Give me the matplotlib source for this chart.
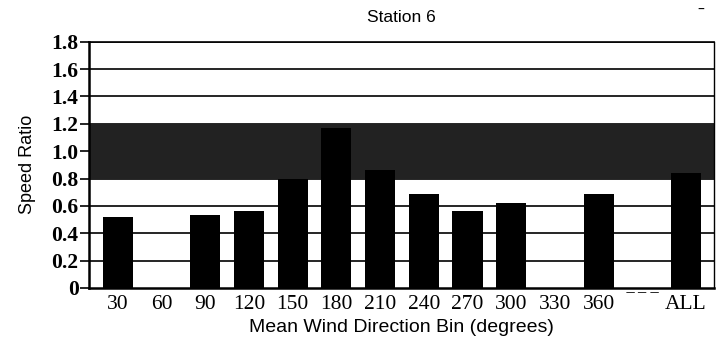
import numpy as np
import matplotlib
matplotlib.use('Agg')
import matplotlib.pyplot as plt

# Speed ratio per mean wind direction bin (blank bins have no data).
bins = ['30', '60', '90', '120', '150', '180', '210', '240', '270', '300',
        '330', '360', '\u203e \u203e \u203e', 'ALL']
ratio = [0.52, np.nan, 0.53, 0.56, 0.80, 1.17, 0.86, 0.69, 0.56, 0.62,
         np.nan, 0.69, np.nan, 0.84]
band_low, band_high = 0.8, 1.2
yticks = [0, 0.2, 0.4, 0.6, 0.8, 1.0, 1.2, 1.4, 1.6, 1.8]
ytick_labels = ['0', '0.2', '0.4', '0.6', '0.8', '1.0', '1.2', '1.4', '1.6', '1.8']

serif = ['Liberation Serif', 'DejaVu Serif']

fig = plt.figure(figsize=(7.17, 3.44), dpi=100)
ax = fig.add_axes([0.1241, 0.1628, 0.8717, 0.716])

x = np.arange(len(bins))

# horizontal grid first, then the shaded band, then the bars on top
for yv in yticks[1:]:
    ax.axhline(yv, color='black', lw=1.2, zorder=1)
ax.axhspan(band_low, band_high, color='#222222', zorder=2, lw=0)
ax.bar(x, ratio, width=0.69, color='black', linewidth=0, zorder=3)

ax.set_xlim(-0.66, 13.64)
ax.set_ylim(0, 1.8)

ax.set_yticks(yticks)
ax.set_yticklabels(ytick_labels, family=serif, fontsize=15.5, fontweight='bold')
ax.set_xticks(x)
ax.set_xticklabels(bins, family=serif, fontsize=15.5)
ax.tick_params(axis='y', direction='out', length=6.5, width=1.2, pad=1)
ax.tick_params(axis='x', length=0, pad=5)

for side in ['left', 'bottom']:
    ax.spines[side].set_linewidth(1.8)
ax.spines['right'].set_linewidth(1.0)
ax.spines['top'].set_linewidth(1.2)

ax.set_title('Station 6', family='Liberation Sans', fontsize=12.5, pad=14)
ax.set_ylabel('Speed Ratio', family='Liberation Sans', fontsize=13, labelpad=11)
ax.set_xlabel('Mean Wind Direction Bin (degrees)', family='Liberation Sans',
              fontsize=14, labelpad=4)

fig.text(0.977, 0.972, '\u2013', fontsize=10, ha='center', va='center')

fig.savefig('out.png', dpi=100)
